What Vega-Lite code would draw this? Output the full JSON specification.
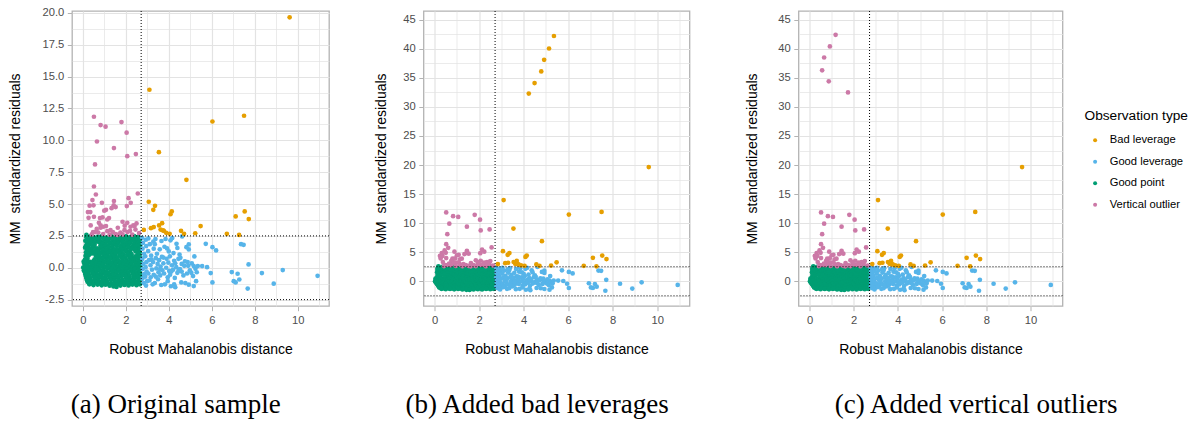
{
  "$schema": "https://vega.github.io/schema/vega-lite/v6.json",
  "background": "white",
  "padding": {"left": 7, "top": 6, "right": 0, "bottom": 0},
  "config": {
    "view": {"stroke": "#B3B3B3", "strokeWidth": 1.3},
    "axis": {
      "domain": false,
      "grid": true,
      "gridColor": "#E3E3E3",
      "tickColor": "#B3B3B3",
      "tickSize": 4.7,
      "tickWidth": 1,
      "labelFont": "Liberation Sans",
      "labelFontSize": 11.2,
      "labelColor": "#4D4D4D",
      "labelPadding": 3.5,
      "labelFlush": false,
      "labelOverlap": false,
      "titleFont": "Liberation Sans",
      "titleFontSize": 14,
      "titleFontWeight": "normal",
      "titleColor": "#000000"
    }
  },
  "datasets": {
    "goodPoint": [
      {"dist": 0.16, "resid": 2.42}, {"dist": 0.34, "resid": 2.47}, {"dist": 0.52, "resid": 2.38}, {"dist": 0.71, "resid": 2.45}, {"dist": 0.9, "resid": 2.5}, {"dist": 1.08, "resid": 2.37}, {"dist": 1.27, "resid": 2.46}, {"dist": 1.46, "resid": 2.41}, {"dist": 1.64, "resid": 2.49}, {"dist": 1.83, "resid": 2.39}, {"dist": 2.01, "resid": 2.46}, {"dist": 2.2, "resid": 2.4}, {"dist": 2.39, "resid": 2.48}, {"dist": 2.57, "resid": 2.43}, {"dist": 2.68, "resid": 2.35},
      {"dist": 0.25, "resid": 2.29}, {"dist": 0.43, "resid": 2.33}, {"dist": 0.62, "resid": 2.27}, {"dist": 0.8, "resid": 2.31}, {"dist": 0.99, "resid": 2.3}, {"dist": 1.17, "resid": 2.34}, {"dist": 1.36, "resid": 2.28}, {"dist": 1.55, "resid": 2.32}, {"dist": 1.73, "resid": 2.27}, {"dist": 1.92, "resid": 2.33}, {"dist": 2.1, "resid": 2.29}, {"dist": 2.29, "resid": 2.31}, {"dist": 2.48, "resid": 2.3}, {"dist": 2.62, "resid": 2.28},
      {"dist": 0.12, "resid": 2.12}, {"dist": 0.27, "resid": 2.2}, {"dist": 0.45, "resid": 2.1}, {"dist": 0.63, "resid": 2.18}, {"dist": 0.81, "resid": 2.08}, {"dist": 1.0, "resid": 2.21}, {"dist": 1.18, "resid": 2.13}, {"dist": 1.37, "resid": 2.19}, {"dist": 1.55, "resid": 2.07}, {"dist": 1.74, "resid": 2.16}, {"dist": 1.92, "resid": 2.22}, {"dist": 2.11, "resid": 2.09}, {"dist": 2.3, "resid": 2.17}, {"dist": 2.48, "resid": 2.11}, {"dist": 2.66, "resid": 2.2},
      {"dist": 0.2, "resid": 1.98}, {"dist": 0.38, "resid": 2.03}, {"dist": 0.56, "resid": 1.97}, {"dist": 0.75, "resid": 2.02}, {"dist": 0.93, "resid": 1.99}, {"dist": 1.12, "resid": 2.04}, {"dist": 1.3, "resid": 1.96}, {"dist": 1.49, "resid": 2.01}, {"dist": 1.67, "resid": 1.98}, {"dist": 1.86, "resid": 2.03}, {"dist": 2.04, "resid": 1.97}, {"dist": 2.23, "resid": 2.02}, {"dist": 2.42, "resid": 1.99}, {"dist": 2.6, "resid": 2.01},
      {"dist": 0.18, "resid": 1.83}, {"dist": 0.36, "resid": 1.9}, {"dist": 0.55, "resid": 1.79}, {"dist": 0.9, "resid": 1.88}, {"dist": 1.07, "resid": 1.8}, {"dist": 1.26, "resid": 1.92}, {"dist": 1.44, "resid": 1.84}, {"dist": 1.63, "resid": 1.9}, {"dist": 1.81, "resid": 1.78}, {"dist": 2.0, "resid": 1.87}, {"dist": 2.18, "resid": 1.93}, {"dist": 2.37, "resid": 1.81}, {"dist": 2.55, "resid": 1.89}, {"dist": 2.69, "resid": 1.84},
      {"dist": 0.14, "resid": 1.68}, {"dist": 0.27, "resid": 1.73}, {"dist": 0.45, "resid": 1.7}, {"dist": 0.82, "resid": 1.72}, {"dist": 1.0, "resid": 1.66}, {"dist": 1.19, "resid": 1.71}, {"dist": 1.37, "resid": 1.69}, {"dist": 1.56, "resid": 1.74}, {"dist": 1.74, "resid": 1.67}, {"dist": 1.93, "resid": 1.72}, {"dist": 2.11, "resid": 1.7}, {"dist": 2.3, "resid": 1.68}, {"dist": 2.48, "resid": 1.73}, {"dist": 2.64, "resid": 1.69},
      {"dist": 0.11, "resid": 1.57}, {"dist": 0.29, "resid": 1.5}, {"dist": 0.47, "resid": 1.6}, {"dist": 0.66, "resid": 1.52}, {"dist": 0.84, "resid": 1.58}, {"dist": 1.03, "resid": 1.49}, {"dist": 1.21, "resid": 1.61}, {"dist": 1.4, "resid": 1.53}, {"dist": 1.58, "resid": 1.47}, {"dist": 1.77, "resid": 1.59}, {"dist": 1.96, "resid": 1.51}, {"dist": 2.14, "resid": 1.62}, {"dist": 2.33, "resid": 1.55}, {"dist": 2.51, "resid": 1.48}, {"dist": 2.67, "resid": 1.58},
      {"dist": 0.2, "resid": 1.38}, {"dist": 0.38, "resid": 1.42}, {"dist": 0.57, "resid": 1.36}, {"dist": 0.75, "resid": 1.41}, {"dist": 0.94, "resid": 1.39}, {"dist": 1.12, "resid": 1.43}, {"dist": 1.31, "resid": 1.37}, {"dist": 1.49, "resid": 1.41}, {"dist": 1.68, "resid": 1.38}, {"dist": 1.86, "resid": 1.42}, {"dist": 2.05, "resid": 1.36}, {"dist": 2.23, "resid": 1.4}, {"dist": 2.42, "resid": 1.43}, {"dist": 2.6, "resid": 1.38},
      {"dist": 0.15, "resid": 1.22}, {"dist": 0.33, "resid": 1.3}, {"dist": 0.51, "resid": 1.19}, {"dist": 0.7, "resid": 1.27}, {"dist": 0.88, "resid": 1.21}, {"dist": 1.07, "resid": 1.32}, {"dist": 1.25, "resid": 1.24}, {"dist": 1.44, "resid": 1.18}, {"dist": 1.62, "resid": 1.29}, {"dist": 1.81, "resid": 1.23}, {"dist": 2.0, "resid": 1.31}, {"dist": 2.18, "resid": 1.2}, {"dist": 2.46, "resid": 1.28}, {"dist": 2.65, "resid": 1.22},
      {"dist": 0.22, "resid": 1.08}, {"dist": 0.42, "resid": 1.12}, {"dist": 0.61, "resid": 1.06}, {"dist": 0.79, "resid": 1.11}, {"dist": 0.98, "resid": 1.09}, {"dist": 1.16, "resid": 1.13}, {"dist": 1.35, "resid": 1.07}, {"dist": 1.53, "resid": 1.1}, {"dist": 1.72, "resid": 1.12}, {"dist": 1.9, "resid": 1.06}, {"dist": 2.09, "resid": 1.11}, {"dist": 2.27, "resid": 1.08}, {"dist": 2.56, "resid": 1.1},
      {"dist": 0.13, "resid": 0.93}, {"dist": 0.28, "resid": 0.99}, {"dist": 0.6, "resid": 0.96}, {"dist": 0.78, "resid": 0.9}, {"dist": 0.97, "resid": 1.0}, {"dist": 1.15, "resid": 0.92}, {"dist": 1.34, "resid": 0.98}, {"dist": 1.52, "resid": 0.88}, {"dist": 1.71, "resid": 0.97}, {"dist": 1.89, "resid": 0.91}, {"dist": 2.08, "resid": 1.01}, {"dist": 2.26, "resid": 0.94}, {"dist": 2.45, "resid": 0.89}, {"dist": 2.63, "resid": 0.99},
      {"dist": 0.2, "resid": 0.8}, {"dist": 0.69, "resid": 0.82}, {"dist": 0.87, "resid": 0.78}, {"dist": 1.06, "resid": 0.83}, {"dist": 1.24, "resid": 0.79}, {"dist": 1.43, "resid": 0.81}, {"dist": 1.61, "resid": 0.77}, {"dist": 1.8, "resid": 0.82}, {"dist": 1.98, "resid": 0.8}, {"dist": 2.17, "resid": 0.84}, {"dist": 2.35, "resid": 0.78}, {"dist": 2.54, "resid": 0.81}, {"dist": 2.68, "resid": 0.79},
      {"dist": 0.1, "resid": 0.63}, {"dist": 0.22, "resid": 0.7}, {"dist": 0.55, "resid": 0.66}, {"dist": 0.74, "resid": 0.6}, {"dist": 0.92, "resid": 0.69}, {"dist": 1.11, "resid": 0.62}, {"dist": 1.29, "resid": 0.71}, {"dist": 1.48, "resid": 0.64}, {"dist": 1.66, "resid": 0.58}, {"dist": 1.85, "resid": 0.68}, {"dist": 2.03, "resid": 0.61}, {"dist": 2.22, "resid": 0.7}, {"dist": 2.4, "resid": 0.63}, {"dist": 2.59, "resid": 0.67}, {"dist": 2.7, "resid": 0.6},
      {"dist": 0.04, "resid": 0.48}, {"dist": 0.16, "resid": 0.52}, {"dist": 0.34, "resid": 0.47}, {"dist": 0.5, "resid": 0.53}, {"dist": 0.71, "resid": 0.5}, {"dist": 0.89, "resid": 0.46}, {"dist": 1.08, "resid": 0.52}, {"dist": 1.26, "resid": 0.49}, {"dist": 1.45, "resid": 0.54}, {"dist": 1.63, "resid": 0.47}, {"dist": 1.82, "resid": 0.51}, {"dist": 2.0, "resid": 0.48}, {"dist": 2.19, "resid": 0.53}, {"dist": 2.37, "resid": 0.5}, {"dist": 2.56, "resid": 0.47},
      {"dist": 0.07, "resid": 0.33}, {"dist": 0.25, "resid": 0.4}, {"dist": 0.43, "resid": 0.3}, {"dist": 0.62, "resid": 0.38}, {"dist": 0.8, "resid": 0.32}, {"dist": 0.99, "resid": 0.41}, {"dist": 1.17, "resid": 0.34}, {"dist": 1.36, "resid": 0.28}, {"dist": 1.54, "resid": 0.39}, {"dist": 1.73, "resid": 0.31}, {"dist": 1.91, "resid": 0.37}, {"dist": 2.1, "resid": 0.3}, {"dist": 2.28, "resid": 0.4}, {"dist": 2.47, "resid": 0.33}, {"dist": 2.65, "resid": 0.36},
      {"dist": 0.1, "resid": 0.18}, {"dist": 0.2, "resid": 0.22}, {"dist": 0.39, "resid": 0.17}, {"dist": 0.58, "resid": 0.21}, {"dist": 0.76, "resid": 0.19}, {"dist": 0.95, "resid": 0.23}, {"dist": 1.13, "resid": 0.16}, {"dist": 1.32, "resid": 0.2}, {"dist": 1.5, "resid": 0.22}, {"dist": 1.69, "resid": 0.17}, {"dist": 1.87, "resid": 0.21}, {"dist": 2.06, "resid": 0.19}, {"dist": 2.24, "resid": 0.23}, {"dist": 2.43, "resid": 0.16}, {"dist": 2.61, "resid": 0.2},
      {"dist": 0.02, "resid": 0.02}, {"dist": 0.14, "resid": 0.08}, {"dist": 0.3, "resid": -0.01}, {"dist": 0.49, "resid": 0.06}, {"dist": 0.67, "resid": 0.0}, {"dist": 0.86, "resid": 0.1}, {"dist": 1.04, "resid": 0.03}, {"dist": 1.23, "resid": -0.02}, {"dist": 1.41, "resid": 0.07}, {"dist": 1.6, "resid": 0.01}, {"dist": 1.78, "resid": 0.09}, {"dist": 1.97, "resid": -0.01}, {"dist": 2.15, "resid": 0.05}, {"dist": 2.34, "resid": 0.1}, {"dist": 2.52, "resid": 0.0}, {"dist": 2.69, "resid": 0.06},
      {"dist": 0.08, "resid": -0.1}, {"dist": 0.22, "resid": -0.12}, {"dist": 0.4, "resid": -0.07}, {"dist": 0.58, "resid": -0.11}, {"dist": 0.77, "resid": -0.09}, {"dist": 0.95, "resid": -0.13}, {"dist": 1.14, "resid": -0.06}, {"dist": 1.32, "resid": -0.1}, {"dist": 1.51, "resid": -0.12}, {"dist": 1.69, "resid": -0.08}, {"dist": 1.88, "resid": -0.11}, {"dist": 2.06, "resid": -0.07}, {"dist": 2.25, "resid": -0.13}, {"dist": 2.43, "resid": -0.09}, {"dist": 2.62, "resid": -0.1},
      {"dist": 0.05, "resid": -0.22}, {"dist": 0.2, "resid": -0.3}, {"dist": 0.38, "resid": -0.2}, {"dist": 0.57, "resid": -0.28}, {"dist": 0.75, "resid": -0.19}, {"dist": 0.94, "resid": -0.27}, {"dist": 1.12, "resid": -0.31}, {"dist": 1.31, "resid": -0.21}, {"dist": 1.49, "resid": -0.29}, {"dist": 1.68, "resid": -0.18}, {"dist": 1.86, "resid": -0.26}, {"dist": 2.05, "resid": -0.32}, {"dist": 2.23, "resid": -0.2}, {"dist": 2.42, "resid": -0.27}, {"dist": 2.6, "resid": -0.22},
      {"dist": 0.1, "resid": -0.38}, {"dist": 0.28, "resid": -0.42}, {"dist": 0.47, "resid": -0.37}, {"dist": 0.65, "resid": -0.41}, {"dist": 0.84, "resid": -0.43}, {"dist": 1.02, "resid": -0.39}, {"dist": 1.21, "resid": -0.44}, {"dist": 1.39, "resid": -0.38}, {"dist": 1.58, "resid": -0.41}, {"dist": 1.76, "resid": -0.36}, {"dist": 1.95, "resid": -0.42}, {"dist": 2.13, "resid": -0.4}, {"dist": 2.32, "resid": -0.37}, {"dist": 2.5, "resid": -0.43}, {"dist": 2.66, "resid": -0.39},
      {"dist": 0.12, "resid": -0.52}, {"dist": 0.3, "resid": -0.6}, {"dist": 0.49, "resid": -0.5}, {"dist": 0.67, "resid": -0.57}, {"dist": 0.86, "resid": -0.61}, {"dist": 1.04, "resid": -0.49}, {"dist": 1.23, "resid": -0.58}, {"dist": 1.41, "resid": -0.53}, {"dist": 1.6, "resid": -0.62}, {"dist": 1.78, "resid": -0.51}, {"dist": 1.97, "resid": -0.56}, {"dist": 2.15, "resid": -0.6}, {"dist": 2.34, "resid": -0.49}, {"dist": 2.52, "resid": -0.57}, {"dist": 2.68, "resid": -0.52},
      {"dist": 0.15, "resid": -0.68}, {"dist": 0.33, "resid": -0.72}, {"dist": 0.52, "resid": -0.67}, {"dist": 0.7, "resid": -0.71}, {"dist": 0.89, "resid": -0.73}, {"dist": 1.07, "resid": -0.69}, {"dist": 1.26, "resid": -0.74}, {"dist": 1.44, "resid": -0.68}, {"dist": 1.63, "resid": -0.71}, {"dist": 1.81, "resid": -0.66}, {"dist": 2.0, "resid": -0.72}, {"dist": 2.18, "resid": -0.7}, {"dist": 2.37, "resid": -0.67}, {"dist": 2.55, "resid": -0.73}, {"dist": 2.68, "resid": -0.69},
      {"dist": 0.17, "resid": -0.82}, {"dist": 0.35, "resid": -0.9}, {"dist": 0.54, "resid": -0.8}, {"dist": 0.72, "resid": -0.88}, {"dist": 0.91, "resid": -0.83}, {"dist": 1.09, "resid": -0.91}, {"dist": 1.28, "resid": -0.79}, {"dist": 1.46, "resid": -0.87}, {"dist": 1.65, "resid": -0.84}, {"dist": 1.83, "resid": -0.92}, {"dist": 2.02, "resid": -0.81}, {"dist": 2.2, "resid": -0.89}, {"dist": 2.39, "resid": -0.85}, {"dist": 2.57, "resid": -0.8}, {"dist": 2.7, "resid": -0.9},
      {"dist": 0.2, "resid": -0.97}, {"dist": 0.38, "resid": -1.02}, {"dist": 0.57, "resid": -0.98}, {"dist": 0.75, "resid": -1.03}, {"dist": 0.94, "resid": -0.99}, {"dist": 1.12, "resid": -1.04}, {"dist": 1.31, "resid": -0.96}, {"dist": 1.49, "resid": -1.01}, {"dist": 1.68, "resid": -1.03}, {"dist": 1.86, "resid": -0.98}, {"dist": 2.05, "resid": -1.02}, {"dist": 2.23, "resid": -0.97}, {"dist": 2.42, "resid": -1.01}, {"dist": 2.6, "resid": -1.03},
      {"dist": 0.22, "resid": -1.1}, {"dist": 0.4, "resid": -1.18}, {"dist": 0.59, "resid": -1.12}, {"dist": 0.77, "resid": -1.2}, {"dist": 0.96, "resid": -1.09}, {"dist": 1.14, "resid": -1.17}, {"dist": 1.33, "resid": -1.22}, {"dist": 1.51, "resid": -1.11}, {"dist": 1.7, "resid": -1.19}, {"dist": 1.88, "resid": -1.14}, {"dist": 2.07, "resid": -1.21}, {"dist": 2.25, "resid": -1.1}, {"dist": 2.44, "resid": -1.16}, {"dist": 2.62, "resid": -1.2},
      {"dist": 0.3, "resid": -1.23}, {"dist": 0.48, "resid": -1.27}, {"dist": 0.67, "resid": -1.22}, {"dist": 0.85, "resid": -1.26}, {"dist": 1.04, "resid": -1.24}, {"dist": 1.22, "resid": -1.29}, {"dist": 1.41, "resid": -1.27}, {"dist": 1.6, "resid": -1.32}, {"dist": 1.78, "resid": -1.26}, {"dist": 1.97, "resid": -1.23}, {"dist": 2.16, "resid": -1.27}, {"dist": 2.34, "resid": -1.24}, {"dist": 2.53, "resid": -1.26},
      {"dist": 0.31, "resid": -1.3}, {"dist": 0.5, "resid": -1.36}, {"dist": 0.69, "resid": -1.32}, {"dist": 0.88, "resid": -1.38}, {"dist": 1.06, "resid": -1.33}, {"dist": 1.25, "resid": -1.41}, {"dist": 1.43, "resid": -1.47}, {"dist": 1.57, "resid": -1.5}, {"dist": 1.75, "resid": -1.4}, {"dist": 1.94, "resid": -1.35}, {"dist": 2.13, "resid": -1.39}, {"dist": 2.31, "resid": -1.32}, {"dist": 2.5, "resid": -1.37}, {"dist": 2.66, "resid": -1.3},
      {"dist": 0.17, "resid": 2.58}, {"dist": 1.3, "resid": 2.55}
    ],
    "goodLeverage": [
      {"dist": 2.76, "resid": 2.35}, {"dist": 2.8, "resid": 1.95}, {"dist": 2.78, "resid": 1.5}, {"dist": 2.85, "resid": 1.1}, {"dist": 2.77, "resid": 0.7}, {"dist": 2.82, "resid": 0.3}, {"dist": 2.79, "resid": -0.1}, {"dist": 2.86, "resid": -0.5}, {"dist": 2.78, "resid": -0.85}, {"dist": 2.84, "resid": -1.2},
      {"dist": 2.93, "resid": 2.2}, {"dist": 2.95, "resid": 1.7}, {"dist": 2.9, "resid": 0.9}, {"dist": 2.96, "resid": 0.45}, {"dist": 2.92, "resid": 0.05}, {"dist": 2.97, "resid": -0.3}, {"dist": 2.9, "resid": -0.7}, {"dist": 2.99, "resid": -1.05}, {"dist": 2.94, "resid": -1.4},
      {"dist": 3.05, "resid": 2.3}, {"dist": 3.12, "resid": 1.85}, {"dist": 3.04, "resid": 1.3}, {"dist": 3.18, "resid": 0.95}, {"dist": 3.08, "resid": 0.6}, {"dist": 3.15, "resid": 0.2}, {"dist": 3.22, "resid": -0.15}, {"dist": 3.05, "resid": -0.45}, {"dist": 3.16, "resid": -0.75}, {"dist": 3.1, "resid": -1.0}, {"dist": 3.25, "resid": -1.3}, {"dist": 3.28, "resid": 2.05}, {"dist": 3.3, "resid": 1.5}, {"dist": 3.27, "resid": 0.45}, {"dist": 3.3, "resid": -0.55}, {"dist": 3.35, "resid": -1.2}, {"dist": 3.2, "resid": 0.65}, {"dist": 3.35, "resid": 1.85},
      {"dist": 3.38, "resid": 2.25}, {"dist": 3.45, "resid": 1.1}, {"dist": 3.4, "resid": 0.75}, {"dist": 3.48, "resid": 0.3}, {"dist": 3.42, "resid": -0.05}, {"dist": 3.52, "resid": -0.35}, {"dist": 3.5, "resid": -0.9}, {"dist": 3.58, "resid": 1.45}, {"dist": 3.55, "resid": 0.6}, {"dist": 3.62, "resid": 0.1}, {"dist": 3.6, "resid": -0.6}, {"dist": 3.65, "resid": -1.35}, {"dist": 3.68, "resid": 0.85}, {"dist": 3.7, "resid": -0.2}, {"dist": 3.66, "resid": 2.1}, {"dist": 3.4, "resid": -0.7}, {"dist": 3.6, "resid": -0.1},
      {"dist": 3.75, "resid": 0.35}, {"dist": 3.78, "resid": -0.45}, {"dist": 3.8, "resid": 1.65}, {"dist": 3.82, "resid": -1.3}, {"dist": 3.85, "resid": 2.26}, {"dist": 3.88, "resid": 0.0}, {"dist": 3.9, "resid": 0.7}, {"dist": 3.92, "resid": 1.52}, {"dist": 3.95, "resid": -0.75}, {"dist": 3.98, "resid": 0.4}, {"dist": 4.0, "resid": 1.28}, {"dist": 4.02, "resid": -0.25}, {"dist": 4.05, "resid": 0.9}, {"dist": 4.08, "resid": 2.15}, {"dist": 4.1, "resid": -1.45}, {"dist": 4.06, "resid": -0.55}, {"dist": 3.75, "resid": 0.8}, {"dist": 3.95, "resid": -1.05},
      {"dist": 4.16, "resid": 2.33}, {"dist": 4.15, "resid": 0.2}, {"dist": 4.2, "resid": -0.15}, {"dist": 4.22, "resid": 1.15}, {"dist": 4.25, "resid": 0.55}, {"dist": 4.28, "resid": -0.8}, {"dist": 4.3, "resid": -1.52}, {"dist": 4.36, "resid": 1.88}, {"dist": 4.35, "resid": 0.05}, {"dist": 4.4, "resid": -0.4}, {"dist": 4.45, "resid": 0.7}, {"dist": 4.5, "resid": 1.04}, {"dist": 4.54, "resid": 0.78}, {"dist": 4.52, "resid": -0.1}, {"dist": 4.58, "resid": -1.15}, {"dist": 4.62, "resid": 2.46}, {"dist": 4.6, "resid": 0.3}, {"dist": 4.12, "resid": -0.3}, {"dist": 4.3, "resid": 0.35}, {"dist": 4.45, "resid": -0.25}, {"dist": 4.25, "resid": -1.3}, {"dist": 4.4, "resid": 1.55},
      {"dist": 4.68, "resid": -0.6}, {"dist": 4.72, "resid": 0.15}, {"dist": 4.77, "resid": -1.2}, {"dist": 4.82, "resid": 1.62}, {"dist": 4.85, "resid": -0.45}, {"dist": 4.88, "resid": 0.45}, {"dist": 4.93, "resid": 1.83}, {"dist": 4.93, "resid": 1.44}, {"dist": 4.93, "resid": -1.33}, {"dist": 4.98, "resid": -0.2}, {"dist": 5.07, "resid": 0.34}, {"dist": 5.13, "resid": -0.65}, {"dist": 5.16, "resid": -1.44}, {"dist": 5.19, "resid": 0.89}, {"dist": 5.24, "resid": -0.08}, {"dist": 5.27, "resid": -1.05}, {"dist": 5.16, "resid": 0.13}, {"dist": 5.35, "resid": 0.13}, {"dist": 5.3, "resid": -0.35}, {"dist": 4.6, "resid": -0.3}, {"dist": 4.75, "resid": 0.5}, {"dist": 4.9, "resid": 0.15}, {"dist": 5.05, "resid": -0.4},
      {"dist": 5.55, "resid": 0.13}, {"dist": 5.72, "resid": 1.88}, {"dist": 5.78, "resid": 0.05}, {"dist": 5.95, "resid": -0.42}, {"dist": 6.03, "resid": -1.15}, {"dist": 6.03, "resid": 1.62}, {"dist": 6.2, "resid": 1.36}, {"dist": 6.93, "resid": -0.34}, {"dist": 7.02, "resid": -1.05}, {"dist": 7.11, "resid": -1.15}, {"dist": 7.2, "resid": -0.47}, {"dist": 7.28, "resid": -0.92}, {"dist": 7.36, "resid": 1.85}, {"dist": 7.48, "resid": 1.8}, {"dist": 7.67, "resid": -1.63}, {"dist": 7.71, "resid": 0.26}, {"dist": 8.33, "resid": -0.42}, {"dist": 8.88, "resid": -1.25}, {"dist": 9.3, "resid": -0.18}, {"dist": 10.92, "resid": -0.63}
    ],
    "verticalOutlier": [
      {"dist": 0.52, "resid": 11.85}, {"dist": 0.83, "resid": 11.2}, {"dist": 1.06, "resid": 11.07}, {"dist": 1.8, "resid": 11.43}, {"dist": 2.04, "resid": 10.6}, {"dist": 0.66, "resid": 9.91}, {"dist": 1.45, "resid": 9.39}, {"dist": 2.07, "resid": 8.76}, {"dist": 2.47, "resid": 8.92}, {"dist": 0.57, "resid": 8.11},
      {"dist": 0.52, "resid": 6.38}, {"dist": 0.61, "resid": 5.75}, {"dist": 2.56, "resid": 5.83}, {"dist": 0.45, "resid": 5.31}, {"dist": 1.45, "resid": 5.24}, {"dist": 2.13, "resid": 5.46}, {"dist": 0.89, "resid": 5.1}, {"dist": 0.32, "resid": 4.87}, {"dist": 0.5, "resid": 4.9}, {"dist": 1.44, "resid": 4.9},
      {"dist": 2.23, "resid": 5.1}, {"dist": 2.05, "resid": 4.84}, {"dist": 0.24, "resid": 4.37}, {"dist": 0.35, "resid": 4.37}, {"dist": 1.08, "resid": 4.55}, {"dist": 1.0, "resid": 4.48}, {"dist": 1.34, "resid": 4.68}, {"dist": 1.53, "resid": 4.76}, {"dist": 0.27, "resid": 3.92}, {"dist": 0.52, "resid": 4.0},
      {"dist": 0.8, "resid": 3.9}, {"dist": 0.92, "resid": 3.95}, {"dist": 1.14, "resid": 3.79}, {"dist": 0.37, "resid": 3.32}, {"dist": 0.75, "resid": 3.53}, {"dist": 0.83, "resid": 3.32}, {"dist": 1.22, "resid": 3.9}, {"dist": 2.07, "resid": 3.53}, {"dist": 1.85, "resid": 3.61}, {"dist": 2.22, "resid": 3.22},
      {"dist": 2.35, "resid": 3.32}, {"dist": 2.41, "resid": 3.27}, {"dist": 2.5, "resid": 3.48}, {"dist": 0.83, "resid": 3.14}, {"dist": 0.95, "resid": 3.22}, {"dist": 1.08, "resid": 3.27}, {"dist": 0.48, "resid": 2.8}, {"dist": 0.57, "resid": 2.8}, {"dist": 1.14, "resid": 2.87}, {"dist": 1.29, "resid": 2.95},
      {"dist": 1.4, "resid": 2.8}, {"dist": 1.63, "resid": 3.14}, {"dist": 1.75, "resid": 2.77}, {"dist": 1.94, "resid": 2.95}, {"dist": 2.08, "resid": 2.8}, {"dist": 2.45, "resid": 3.0}, {"dist": 0.72, "resid": 2.77}, {"dist": 1.53, "resid": 2.64},
      {"dist": 0.42, "resid": 2.62}, {"dist": 0.95, "resid": 2.65}, {"dist": 1.25, "resid": 2.6}, {"dist": 1.85, "resid": 2.62}, {"dist": 2.3, "resid": 2.6}, {"dist": 2.62, "resid": 2.72}, {"dist": 1.62, "resid": 2.58}, {"dist": 2.2, "resid": 2.9}, {"dist": 0.65, "resid": 3.05}, {"dist": 1.95, "resid": 3.3}
    ],
    "badLeverage": [
      {"dist": 9.62, "resid": 19.65}, {"dist": 3.1, "resid": 13.97}, {"dist": 6.03, "resid": 11.48}, {"dist": 7.5, "resid": 11.93}, {"dist": 3.54, "resid": 9.07}, {"dist": 4.82, "resid": 6.9}, {"dist": 3.07, "resid": 5.18}, {"dist": 3.36, "resid": 4.86}, {"dist": 3.28, "resid": 4.55}, {"dist": 4.14, "resid": 4.42},
      {"dist": 4.08, "resid": 4.2}, {"dist": 7.11, "resid": 4.03}, {"dist": 7.53, "resid": 4.42}, {"dist": 7.72, "resid": 3.82}, {"dist": 3.69, "resid": 3.5}, {"dist": 3.17, "resid": 3.11}, {"dist": 3.3, "resid": 3.19}, {"dist": 5.48, "resid": 3.27}, {"dist": 2.84, "resid": 2.97}, {"dist": 3.62, "resid": 3.0},
      {"dist": 3.77, "resid": 2.9}, {"dist": 3.88, "resid": 2.74}, {"dist": 4.04, "resid": 2.66}, {"dist": 4.57, "resid": 2.9}, {"dist": 4.71, "resid": 2.66}, {"dist": 5.23, "resid": 2.71}, {"dist": 6.7, "resid": 2.66}, {"dist": 7.27, "resid": 2.58}, {"dist": 3.55, "resid": 3.32}, {"dist": 3.73, "resid": 2.93}
    ],
    "addedBadLeverage": [
      {"dist": 5.36, "resid": 42.2}, {"dist": 5.14, "resid": 40.05}, {"dist": 4.92, "resid": 38.1}, {"dist": 4.79, "resid": 36.1}, {"dist": 4.49, "resid": 34.1}, {"dist": 4.23, "resid": 32.3}
    ],
    "addedVerticalOutlier": [
      {"dist": 1.18, "resid": 42.4}, {"dist": 0.92, "resid": 40.4}, {"dist": 0.66, "resid": 38.5}, {"dist": 0.57, "resid": 36.3}, {"dist": 0.87, "resid": 34.4}, {"dist": 1.74, "resid": 32.5}
    ]
  },
  "resolve": {"scale": {"color": "independent"}},
  "spacing": 42.5,
  "hconcat": [
    {
      "width": 257,
      "height": 295,
      "title": {"text": "(a) Original sample", "orient": "bottom", "anchor": "middle", "frame": "bounds", "font": "Liberation Serif", "fontSize": 27, "fontWeight": "normal", "color": "#000000", "offset": 36, "dx": 7},
      "resolve": {"axis": {"x": "independent", "y": "independent"}},
      "layer": [
        {
          "encoding": {
            "x": {"field": "dist", "type": "quantitative", "scale": {"domain": [-0.5, 11.45], "nice": false, "zero": false},
              "axis": {"title": "Robust Mahalanobis distance", "titlePadding": 17, "values": [0, 2, 4, 6, 8, 10], "format": "d", "gridWidth": 1.2}},
            "y": {"field": "resid", "type": "quantitative", "scale": {"domain": [-3.0, 20.15], "nice": false, "zero": false},
              "axis": {"title": "MM\u00a0 standardized residuals", "titlePadding": 20, "values": [-2.5, 0, 2.5, 5, 7.5, 10, 12.5, 15, 17.5, 20], "gridWidth": 1.2,
                "labelExpr": "replace(format(datum.value, '.1f'), '\u2212', '-')"}}
          },
          "layer": [
            {"data": {"name": "goodPoint"}, "mark": {"type": "circle", "size": 22, "opacity": 1},
              "encoding": {"color": {"datum": "Good point", "type": "nominal", "scale": {"domain": ["Bad leverage", "Good leverage", "Good point", "Vertical outlier"], "range": ["#E69F00", "#56B4E9", "#009E73", "#CC79A7"]}, "legend": null}}},
            {"data": {"name": "goodLeverage"}, "mark": {"type": "circle", "size": 22, "opacity": 1},
              "encoding": {"color": {"datum": "Good leverage", "type": "nominal", "legend": null}}},
            {"data": {"name": "verticalOutlier"}, "mark": {"type": "circle", "size": 22, "opacity": 1},
              "encoding": {"color": {"datum": "Vertical outlier", "type": "nominal", "legend": null}}},
            {"data": {"name": "badLeverage"}, "mark": {"type": "circle", "size": 22, "opacity": 1},
              "encoding": {"color": {"datum": "Bad leverage", "type": "nominal", "legend": null}}}
          ]
        },
        {"data": {"values": [{"cut": 2.716}]}, "mark": {"type": "rule", "color": "#000000", "strokeWidth": 1, "strokeDash": [1, 2]},
          "encoding": {"x": {"field": "cut", "type": "quantitative", "axis": {"orient": "top", "values": [1, 3, 5, 7, 9, 11], "labels": false, "ticks": false, "domain": false, "title": null, "grid": true, "gridWidth": 0.7}}}},
        {"data": {"values": [{"cut": 2.5}, {"cut": -2.5}]}, "mark": {"type": "rule", "color": "#000000", "strokeWidth": 1, "strokeDash": [1, 2]},
          "encoding": {"y": {"field": "cut", "type": "quantitative", "axis": {"orient": "right", "values": [-1.25, 1.25, 3.75, 6.25, 8.75, 11.25, 13.75, 16.25, 18.75], "labels": false, "ticks": false, "domain": false, "title": null, "grid": true, "gridWidth": 0.7}}}}
      ]
    },
    {
      "spacing": 53,
      "resolve": {"scale": {"color": "independent"}},
      "hconcat": [
        {
          "width": 266,
          "height": 295,
          "title": {"text": "(b) Added bad leverages", "orient": "bottom", "anchor": "middle", "frame": "bounds", "font": "Liberation Serif", "fontSize": 27, "fontWeight": "normal", "color": "#000000", "offset": 36, "dx": 5},
          "resolve": {"axis": {"x": "independent", "y": "independent"}},
          "layer": [
            {
              "encoding": {
                "x": {"field": "dist", "type": "quantitative", "scale": {"domain": [-0.5, 11.45], "nice": false, "zero": false},
                  "axis": {"title": "Robust Mahalanobis distance", "titlePadding": 17, "values": [0, 2, 4, 6, 8, 10], "format": "d", "gridWidth": 1.2}},
                "y": {"field": "resid", "type": "quantitative", "scale": {"domain": [-4.25, 46.5], "nice": false, "zero": false},
                  "axis": {"title": "MM\u00a0 standardized residuals", "titlePadding": 14.5, "values": [0, 5, 10, 15, 20, 25, 30, 35, 40, 45], "format": "d", "gridWidth": 1.2}}
              },
              "layer": [
                {"data": {"name": "goodPoint"}, "mark": {"type": "circle", "size": 22, "opacity": 1},
                  "encoding": {"color": {"datum": "Good point", "type": "nominal", "scale": {"domain": ["Bad leverage", "Good leverage", "Good point", "Vertical outlier"], "range": ["#E69F00", "#56B4E9", "#009E73", "#CC79A7"]}, "legend": null}}},
                {"data": {"name": "goodLeverage"}, "mark": {"type": "circle", "size": 22, "opacity": 1},
                  "encoding": {"color": {"datum": "Good leverage", "type": "nominal", "legend": null}}},
                {"data": {"name": "verticalOutlier"}, "mark": {"type": "circle", "size": 22, "opacity": 1},
                  "encoding": {"color": {"datum": "Vertical outlier", "type": "nominal", "legend": null}}},
                {"data": {"name": "badLeverage"}, "mark": {"type": "circle", "size": 22, "opacity": 1},
                  "encoding": {"color": {"datum": "Bad leverage", "type": "nominal", "legend": null}}},
                {"data": {"name": "addedBadLeverage"}, "mark": {"type": "circle", "size": 22, "opacity": 1},
                  "encoding": {"color": {"datum": "Bad leverage", "type": "nominal", "legend": null}}}
              ]
            },
            {"data": {"values": [{"cut": 2.716}]}, "mark": {"type": "rule", "color": "#000000", "strokeWidth": 1, "strokeDash": [1, 2]},
              "encoding": {"x": {"field": "cut", "type": "quantitative", "axis": {"orient": "top", "values": [1, 3, 5, 7, 9, 11], "labels": false, "ticks": false, "domain": false, "title": null, "grid": true, "gridWidth": 0.7}}}},
            {"data": {"values": [{"cut": 2.5}, {"cut": -2.5}]}, "mark": {"type": "rule", "color": "#000000", "strokeWidth": 1, "strokeDash": [1, 2]},
              "encoding": {"y": {"field": "cut", "type": "quantitative", "axis": {"orient": "right", "values": [-2.5, 2.5, 7.5, 12.5, 17.5, 22.5, 27.5, 32.5, 37.5, 42.5], "labels": false, "ticks": false, "domain": false, "title": null, "grid": true, "gridWidth": 0.7}}}}
          ]
        },
        {
          "width": 264,
          "height": 295,
          "title": {"text": "(c) Added vertical outliers", "orient": "bottom", "anchor": "middle", "frame": "bounds", "font": "Liberation Serif", "fontSize": 27, "fontWeight": "normal", "color": "#000000", "offset": 36, "dx": 9},
          "resolve": {"axis": {"x": "independent", "y": "independent"}},
          "layer": [
            {
              "encoding": {
                "x": {"field": "dist", "type": "quantitative", "scale": {"domain": [-0.5, 11.45], "nice": false, "zero": false},
                  "axis": {"title": "Robust Mahalanobis distance", "titlePadding": 17, "values": [0, 2, 4, 6, 8, 10], "format": "d", "gridWidth": 1.2}},
                "y": {"field": "resid", "type": "quantitative", "scale": {"domain": [-4.25, 46.5], "nice": false, "zero": false},
                  "axis": {"title": "MM\u00a0 standardized residuals", "titlePadding": 18, "values": [0, 5, 10, 15, 20, 25, 30, 35, 40, 45], "format": "d", "gridWidth": 1.2}}
              },
              "layer": [
                {"data": {"name": "goodPoint"}, "mark": {"type": "circle", "size": 22, "opacity": 1},
                  "encoding": {"color": {"datum": "Good point", "type": "nominal", "scale": {"domain": ["Bad leverage", "Good leverage", "Good point", "Vertical outlier"], "range": ["#E69F00", "#56B4E9", "#009E73", "#CC79A7"]},
                    "legend": {"title": "Observation type", "orient": "none", "legendX": 286, "legendY": 98, "padding": 0, "symbolType": "circle", "symbolSize": 16, "symbolStrokeWidth": 0, "symbolOffset": 5, "labelOffset": 9, "rowPadding": 9.5, "titlePadding": 12,
                      "titleFont": "Liberation Sans", "titleFontSize": 13.7, "titleFontWeight": "normal", "titleColor": "#000000", "labelFont": "Liberation Sans", "labelFontSize": 11.2, "labelColor": "#000000"}}}},
                {"data": {"name": "goodLeverage"}, "mark": {"type": "circle", "size": 22, "opacity": 1},
                  "encoding": {"color": {"datum": "Good leverage", "type": "nominal"}}},
                {"data": {"name": "verticalOutlier"}, "mark": {"type": "circle", "size": 22, "opacity": 1},
                  "encoding": {"color": {"datum": "Vertical outlier", "type": "nominal"}}},
                {"data": {"name": "addedVerticalOutlier"}, "mark": {"type": "circle", "size": 22, "opacity": 1},
                  "encoding": {"color": {"datum": "Vertical outlier", "type": "nominal"}}},
                {"data": {"name": "badLeverage"}, "mark": {"type": "circle", "size": 22, "opacity": 1},
                  "encoding": {"color": {"datum": "Bad leverage", "type": "nominal"}}}
              ]
            },
            {"data": {"values": [{"cut": 2.716}]}, "mark": {"type": "rule", "color": "#000000", "strokeWidth": 1, "strokeDash": [1, 2]},
              "encoding": {"x": {"field": "cut", "type": "quantitative", "axis": {"orient": "top", "values": [1, 3, 5, 7, 9, 11], "labels": false, "ticks": false, "domain": false, "title": null, "grid": true, "gridWidth": 0.7}}}},
            {"data": {"values": [{"cut": 2.5}, {"cut": -2.5}]}, "mark": {"type": "rule", "color": "#000000", "strokeWidth": 1, "strokeDash": [1, 2]},
              "encoding": {"y": {"field": "cut", "type": "quantitative", "axis": {"orient": "right", "values": [-2.5, 2.5, 7.5, 12.5, 17.5, 22.5, 27.5, 32.5, 37.5, 42.5], "labels": false, "ticks": false, "domain": false, "title": null, "grid": true, "gridWidth": 0.7}}}}
          ]
        }
      ]
    }
  ]
}
